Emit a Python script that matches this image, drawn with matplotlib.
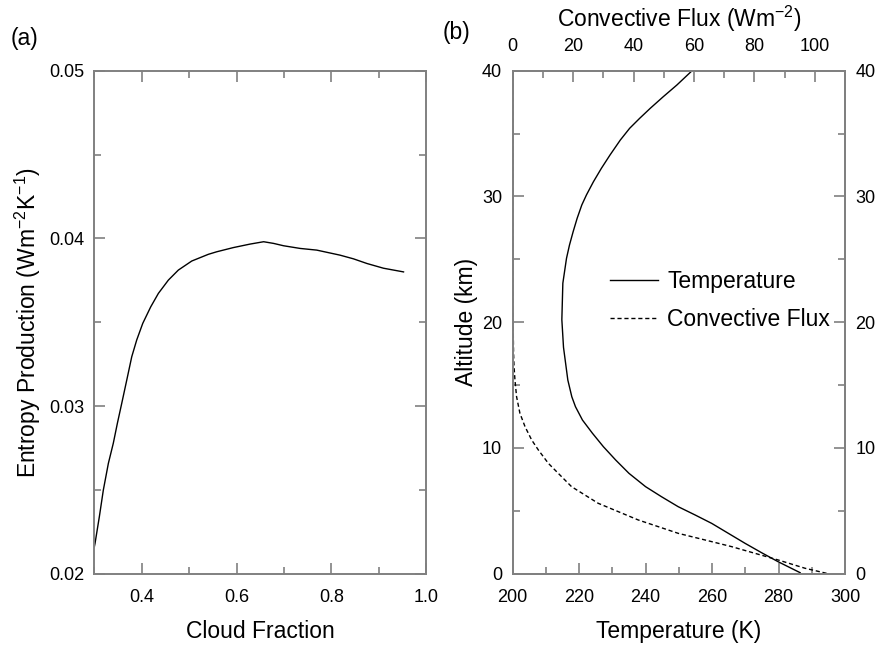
import numpy as np
import matplotlib
matplotlib.use("Agg")
import matplotlib.pyplot as plt
from matplotlib.ticker import MultipleLocator

plt.rcParams["font.family"] = ["Liberation Sans", "DejaVu Sans"]
plt.rcParams["mathtext.default"] = "regular"

# ---- panel (a): entropy production vs cloud fraction ----
cloud_frac = np.array([0.300, 0.3015, 0.3106, 0.319, 0.3296, 0.340, 0.3486, 0.3578, 0.3684,
                       0.3789, 0.3894, 0.4021, 0.4190, 0.4351, 0.4561, 0.4772, 0.5055,
                       0.5405, 0.558, 0.593, 0.6285, 0.657, 0.678, 0.699, 0.734, 0.769,
                       0.818, 0.8464, 0.875, 0.9097, 0.952])
entropy = np.array([0.0216, 0.02181, 0.02340, 0.02499, 0.02658, 0.02778, 0.02897, 0.03016,
                    0.03155, 0.03294, 0.03394, 0.03493, 0.03592, 0.03672, 0.03751, 0.03811,
                    0.03865, 0.03905, 0.03920, 0.03945, 0.03966, 0.0398, 0.0397, 0.03956,
                    0.0394, 0.0393, 0.0390, 0.03878, 0.0385, 0.03822, 0.0380])

# ---- panel (b): temperature + convective flux profiles ----
alt_T = np.array([0.08, 0.95, 1.67, 2.42, 3.21, 4.0, 4.67, 5.33, 6.12, 6.92, 7.98, 9.04,
                  10.10, 11.17, 12.22, 13.28, 14.07, 15.4, 17.0, 18.0, 20.2, 23.1, 25.08,
                  26.14, 27.2, 28.26, 29.32, 30.12, 31.17, 32.24, 33.30, 34.49, 35.42,
                  36.21, 37.01, 37.93, 38.86, 39.98])
temp = np.array([286.5, 279.9, 274.9, 269.9, 264.9, 259.9, 254.9, 249.8, 244.8, 240.0,
                 235.0, 231.0, 227.3, 224.0, 221.0, 218.9, 217.8, 216.6, 215.8, 215.3,
                 214.8, 215.1, 216.2, 217.1, 218.2, 219.4, 220.8, 222.2, 224.3, 226.7,
                 229.3, 232.4, 235.2, 238.2, 241.4, 245.3, 249.4, 253.9])

alt_F = np.array([0.03, 0.43, 1.09, 1.62, 2.15, 2.68, 3.21, 3.74, 4.27, 4.93, 5.60, 6.26,
                  6.92, 7.98, 8.78, 9.84, 10.63, 11.69, 12.76, 14.07, 15.4, 16.5, 17.5,
                  19.1, 22.0, 30.0, 40.0])
conv_flux = np.array([103.9, 96.8, 87.9, 80.2, 72.5, 63.7, 54.8, 48.2, 41.6, 35.0, 28.3,
                      23.9, 19.5, 15.1, 11.8, 8.5, 6.3, 4.1, 2.4, 1.3, 0.76, 0.45, 0.3,
                      0.2, 0.05, 0.0, 0.0])

SPINE = "#808080"
LBL, TCK = 16.5, 13


def style(ax):
    for s in ax.spines.values():
        s.set_color(SPINE)
        s.set_linewidth(1.4)
    ax.tick_params(which="both", direction="in", color=SPINE, width=1.2,
                   labelsize=TCK, top=True, right=True)
    ax.tick_params(which="major", length=8)
    ax.tick_params(which="minor", length=5)
    ax.tick_params(axis="x", which="both", pad=11)
    ax.tick_params(axis="y", which="both", pad=7.5)


fig = plt.figure(figsize=(8.75, 6.47), dpi=100)
ax1 = fig.add_axes([0.1078, 0.1133, 0.3794, 0.7774])
ax2 = fig.add_axes([0.5859, 0.1133, 0.3798, 0.7774])

# (a)
ax1.plot(cloud_frac, entropy, color="black", lw=1.0)
ax1.set_xlim(0.3, 1.0)
ax1.set_ylim(0.02, 0.05)
ax1.xaxis.set_minor_locator(MultipleLocator(0.1))
ax1.set_xticks([0.4, 0.6, 0.8, 1.0])
ax1.set_xticklabels(["0.4", "0.6", "0.8", "1.0"])
ax1.yaxis.set_minor_locator(MultipleLocator(0.005))
ax1.set_yticks([0.02, 0.03, 0.04, 0.05])
ax1.set_yticklabels(["0.02", "0.03", "0.04", "0.05"])
style(ax1)
ax1.tick_params(labeltop=False, labelright=False)
ax1.set_xlabel("Cloud Fraction", fontsize=LBL, labelpad=10)
ax1.set_ylabel("Entropy Production (Wm$^{-2}$K$^{-1}$)", fontsize=LBL, labelpad=4)
fig.text(0.012, 0.941, "(a)", fontsize=LBL, va="center")

# (b)
l1, = ax2.plot(temp, alt_T, color="black", lw=1.0, label="Temperature")
ax2.set_xlim(200, 300)
ax2.set_ylim(0, 40)
ax2.xaxis.set_major_locator(MultipleLocator(20))
ax2.xaxis.set_minor_locator(MultipleLocator(10))
ax2.yaxis.set_major_locator(MultipleLocator(10))
ax2.yaxis.set_minor_locator(MultipleLocator(5))
style(ax2)
ax2.tick_params(top=False, labelright=True)
ax2.set_xlabel("Temperature (K)", fontsize=LBL, labelpad=10)
ax2.set_ylabel("Altitude (km)", fontsize=LBL, labelpad=3)

ax3 = ax2.twiny()
l2, = ax3.plot(conv_flux, alt_F, color="black", lw=1.0, dashes=(3, 2), label="Convective Flux")
ax3.set_xlim(0, 110)
ax3.xaxis.set_major_locator(MultipleLocator(20))
ax3.xaxis.set_minor_locator(MultipleLocator(10))
style(ax3)
ax3.tick_params(bottom=False, left=False, right=False)
ax3.set_xlabel("Convective Flux (Wm$^{-2}$)", fontsize=LBL, labelpad=8)
fig.text(0.506, 0.949, "(b)", fontsize=LBL, va="center")

ax3.legend([l1, l2], ["Temperature", "Convective Flux"], loc="center left",
           bbox_to_anchor=(0.293, 0.543), frameon=False, fontsize=LBL,
           handlelength=2.1, handletextpad=0.4, borderpad=0, borderaxespad=0,
           labelspacing=0.65)

fig.savefig("out.png", dpi=100)
